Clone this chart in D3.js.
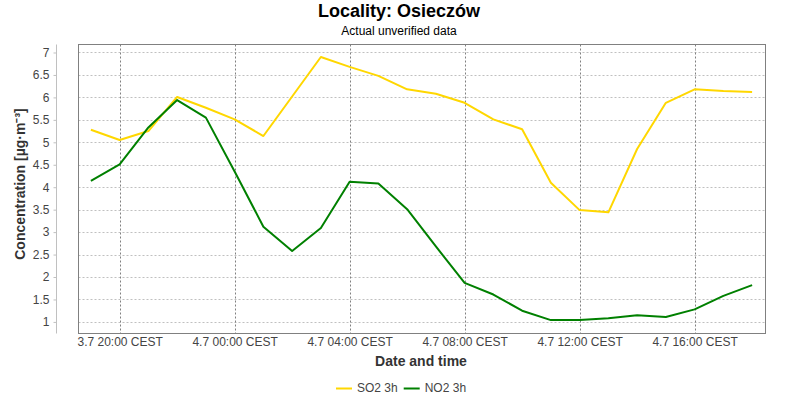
<!DOCTYPE html>
<html>
<head>
<meta charset="utf-8">
<script src="https://cdn.jsdelivr.net/npm/d3@7"></script>
<style>
  html, body { margin: 0; padding: 0; background: #fff; }
  svg { display: block; font-family: "Liberation Sans", Arial, sans-serif; }
</style>
</head>
<body>
<svg id="chart" width="800" height="400"></svg>
<script>
// ---- data ----
const times = [
  "2024-07-03T19:00","2024-07-03T20:00","2024-07-03T21:00","2024-07-03T22:00",
  "2024-07-03T23:00","2024-07-04T00:00","2024-07-04T01:00","2024-07-04T02:00",
  "2024-07-04T03:00","2024-07-04T04:00","2024-07-04T05:00","2024-07-04T06:00",
  "2024-07-04T07:00","2024-07-04T08:00","2024-07-04T09:00","2024-07-04T10:00",
  "2024-07-04T11:00","2024-07-04T12:00","2024-07-04T13:00","2024-07-04T14:00",
  "2024-07-04T15:00","2024-07-04T16:00","2024-07-04T17:00","2024-07-04T18:00"
];
const so2 = [5.28, 5.05, 5.25, 6.01, 5.77, 5.51, 5.14, 6.02, 6.90, 6.68, 6.48, 6.18,
             6.08, 5.88, 5.51, 5.29, 4.10, 3.49, 3.44, 4.85, 5.88, 6.18, 6.14, 6.12];
const no2 = [4.14, 4.51, 5.33, 5.94, 5.55, 4.35, 3.12, 2.58, 3.09, 4.12, 4.08, 3.51,
             2.68, 1.87, 1.61, 1.25, 1.04, 1.04, 1.08, 1.15, 1.11, 1.28, 1.58, 1.82];
const seriesNames = ["SO2 3h", "NO2 3h"];
const seriesColors = ["#FFD700", "#008000"];
const yTicks = [1, 1.5, 2, 2.5, 3, 3.5, 4, 4.5, 5, 5.5, 6, 6.5, 7];
const titleText = "Locality: Osieczów";
const subtitleText = "Actual unverified data";
const xLabel = "Date and time";
const yLabel = "Concentration [µg·m⁻³]";

// ---- layout ----
const svg = d3.select("#chart");
const L = 78.5, R = 765.5, T = 44.5, B = 333.5;

const dates = times.map(t => new Date(t));
const hour = 3600e3;
const x = d3.scaleTime()
  .domain([new Date(dates[0].getTime() - 0.431 * hour), new Date(dates[dates.length - 1].getTime() + 0.466 * hour)])
  .range([L, R]);
const y = d3.scaleLinear().domain([0.742, 7.178]).range([B, T]);

// title
svg.append("text").attr("x", 399).attr("y", 17).attr("text-anchor", "middle")
  .attr("font-size", 18).attr("font-weight", "bold").attr("fill", "#000").text(titleText);
svg.append("text").attr("x", 399).attr("y", 35).attr("text-anchor", "middle")
  .attr("font-size", 12).attr("fill", "#000").text(subtitleText);

// gridlines
const xTicks = x.ticks(d3.timeHour.every(4));
const grid = svg.append("g");
grid.selectAll("line.h").data(yTicks).join("line")
  .attr("x1", L).attr("x2", R)
  .attr("y1", d => Math.round(y(d)) + 0.5).attr("y2", d => Math.round(y(d)) + 0.5)
  .attr("stroke", "#c0c0c0").attr("stroke-width", 1).attr("stroke-dasharray", "2,2");
grid.selectAll("line.v").data(xTicks).join("line")
  .attr("y1", T).attr("y2", B)
  .attr("x1", d => Math.round(x(d)) + 0.5).attr("x2", d => Math.round(x(d)) + 0.5)
  .attr("stroke", "#808080").attr("stroke-width", 1).attr("stroke-dasharray", "2,2");

// lines
const series = [so2, no2];
const line = d3.line().x((d, i) => x(dates[i])).y(d => y(d));
svg.append("g").selectAll("path").data(series).join("path")
  .attr("d", d => line(d))
  .attr("fill", "none")
  .attr("stroke", (d, i) => seriesColors[i])
  .attr("stroke-width", 2)
  .attr("stroke-linejoin", "round");

// plot border
svg.append("rect").attr("x", L).attr("y", T).attr("width", R - L).attr("height", B - T)
  .attr("fill", "none").attr("stroke", "#808080").attr("stroke-width", 1);

// y axis (offset to the left)
const yAxis = d3.axisLeft(y).tickValues(yTicks).tickSize(3).tickPadding(4)
  .tickFormat(d3.format("~g"));
const yg = svg.append("g").attr("transform", "translate(56.5,0)").call(yAxis);
yg.select(".domain").attr("stroke", "#c0c0c0").attr("d", `M0,${T}V${B}`);
yg.selectAll(".tick line").attr("stroke", "#c0c0c0");
yg.selectAll(".tick text").attr("font-size", 12).attr("fill", "#444")
  .attr("font-family", "Liberation Sans, Arial, sans-serif");

// x axis
const fmt = d3.timeFormat("%-d.%-m %H:%M");
const xAxis = d3.axisBottom(x).tickValues(xTicks).tickSize(0).tickPadding(4)
  .tickFormat(d => fmt(d) + " CEST");
const xg = svg.append("g").attr("transform", `translate(0,${B})`).call(xAxis);
xg.select(".domain").remove();
xg.selectAll(".tick text").attr("font-size", 12).attr("fill", "#444")
  .attr("font-family", "Liberation Sans, Arial, sans-serif");

// axis labels
svg.append("text").attr("x", 421).attr("y", 366).attr("text-anchor", "middle")
  .attr("font-size", 14).attr("font-weight", "bold").attr("fill", "#333").text(xLabel);
svg.append("text").attr("transform", `translate(25,184) rotate(-90)`)
  .attr("text-anchor", "middle").attr("font-size", 14).attr("font-weight", "bold")
  .attr("fill", "#333").text(yLabel);

// legend
const lg = svg.append("g");
let lx = 336;
seriesNames.forEach((name, i) => {
  lg.append("line").attr("x1", lx).attr("x2", lx + 16).attr("y1", 388.5).attr("y2", 388.5)
    .attr("stroke", seriesColors[i]).attr("stroke-width", 2);
  const t = lg.append("text").attr("x", lx + 21).attr("y", 392).attr("font-size", 12)
    .attr("fill", "#444").text(name);
  lx += 21 + t.node().getComputedTextLength() + 6;
});
</script>
</body>
</html>
